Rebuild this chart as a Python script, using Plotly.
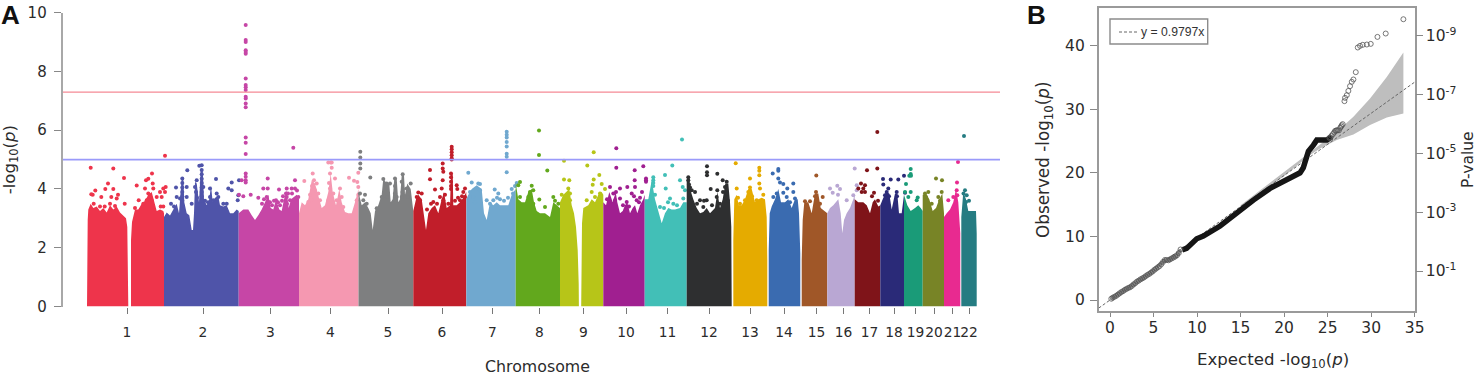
import plotly.graph_objects as go

# ---------- Manhattan plot: chromosome labels, tick positions, colours ----------
chromosomes = ["1","2","3","4","5","6","7","8","9","10","11","12","13","14","15","16","17","18","19","20","21","22"]
chrom_ticks = [127,203,270.5,330.5,388,442,492.5,539.5,583.5,626,667.5,709,750,784,816.5,843.5,869.5,894,915.5,934,952.5,969]
chrom_colors = ["#EE344B","#4F54A9","#C646A6","#F598B1","#7E7F80","#C11E2A","#70A8CF","#62A81D","#B7C518","#A01F90",
                "#42BFB7","#2E2F30","#E5AB00","#3A6BB0","#A05728","#B9A7D3","#7F1419","#2A2A78","#1A9B78","#788426","#E82A90","#257C82"]

# upper edge of the dense mass of SNPs, (cumulative position, -log10 p)
chr1_top = [(87,0),(87,2.26),(87.7,2.94),(88.3,3.3),(90.7,3.5),(93.3,3.35),(96.7,3.4),(100,3.25),(103.3,3.35),(106.7,3.2),(110,3.45),(113.3,3.3),(116.7,3.4),(120,3.2),(123.3,3.1),(126,3.0),(127.3,2.71),(128,1.35),(128.3,0),
            (131,0),(131,2.26),(132,2.88),(133.3,3.1),(135,3.3),(138.3,3.3),(141.7,3.5),(145,3.6),(148.3,3.8),(151.7,3.9),(154,3.55),(156.7,3.25),(160,3.3),(163.3,3.25),(164,3.17),(164,0)]
chr2_top = [(164,0),(164,3.05),(166.7,3.2),(170,3.1),(173.3,3.3),(176.7,3.5),(179,3.17),(181.7,4.36),(183.3,4.36),(184.3,3.55),(186.7,3.17),(189.3,3.11),(191.7,2.6),(193,2.6),(194,3.17),(195,4.25),(196.7,4.19),(199,3.55),(200.7,4.64),(202.7,4.64),(204,3.65),(206.7,3.45),(209.3,3.65),(211,4.13),(212.7,3.55),(215,3.7),(218.3,3.75),(220,3.45),(223.3,3.4),(226.7,3.45),(230,3.17),(233.3,3.17),(236.7,3.3),(238.7,3.25),(238.7,0)]
chr3_top = [(238.7,0),(238.7,3.17),(243.3,3.3),(248.3,3.3),(251.7,3.11),(255,2.94),(258.3,3.11),(261.7,3.3),(265,3.55),(268.3,3.8),(270.7,3.35),(273.3,3.3),(276,3.65),(279.3,3.3),(281.7,3.25),(284,3.65),(286.7,3.95),(288.7,3.35),(291,3.65),(293.3,3.7),(296.7,3.8),(299,3.65),(299,0)]
chr4_top = [(299,0),(299,3.17),(301.7,3.55),(305,3.45),(308.3,3.65),(311.7,4.3),(315,4.19),(318.3,3.8),(321.7,3.35),(325,3.45),(328.3,3.9),(330.7,4.53),(332.7,3.9),(336,3.45),(339.3,4.0),(341.7,3.55),(345,3.22),(348.3,3.17),(351.7,3.17),(355,3.55),(358.5,4.0),(358.5,0)]
chr5_top = [(358.5,0),(358.5,3.9),(361.7,3.45),(365,3.55),(368.3,3.35),(370.7,3.17),(372.7,2.6),(375,3.25),(378.3,3.45),(381.7,3.8),(383.3,4.36),(386.7,4.19),(389.3,4.19),(390.7,3.55),(392.7,3.65),(394.3,4.36),(396.7,4.36),(398.3,3.55),(400,3.65),(401.7,4.47),(404,4.47),(405,3.8),(407.3,4.19),(410.7,4.0),(413.3,3.25),(413.3,0)]
chr6_top = [(413.3,0),(413.3,3.25),(416,3.65),(418.3,3.8),(421.7,3.65),(424,3.05),(426,2.6),(428.3,3.17),(431.7,3.35),(435,3.45),(438.3,3.17),(441.7,3.65),(444,3.9),(446.7,3.35),(450,3.45),(451,4.5),(452.7,4.5),(453.3,3.45),(456.7,3.45),(460,3.55),(463.3,3.7),(466.3,3.9),(466.3,0)]
chr7_top = [(466.3,0),(466.3,3.65),(468.3,3.8),(471.7,4.0),(476.7,4.13),(481.7,4.0),(484,3.17),(486.7,2.94),(490,3.55),(493.3,3.45),(496.7,3.55),(500,3.45),(503.3,3.45),(508.3,3.45),(511.7,3.8),(515.7,4.0),(515.7,0)]
chr8_top = [(515.7,0),(515.7,4.2),(518.3,3.65),(521.7,3.55),(525,3.55),(528.3,3.9),(531.7,4.0),(534,3.55),(536.7,3.25),(540,3.17),(545,3.17),(550,3.05),(553.3,3.55),(556.7,3.45),(560,3.35),(560,0)]
chr9_top = [(560,0),(560,3.55),(563.3,3.8),(566.7,3.9),(569.3,4.0),(571.7,3.45),(574,3.17),(576,2.71),(577.7,1.92),(578.7,0.78),(578.9,0),
            (581.2,0),(581.3,1.35),(582,2.83),(583.3,3.35),(588.3,3.45),(591.7,3.65),(595,3.55),(598.3,3.8),(601.7,3.9),(603.3,3.8),(603.3,0)]
chr10_top = [(603.3,0),(603.3,3.55),(606,3.45),(609.3,3.9),(612.7,3.55),(615.7,3.9),(617.3,3.55),(620,3.17),(622.7,3.25),(625,3.45),(627.3,3.55),(630,3.17),(632.7,3.35),(635,3.45),(637.3,3.17),(640,3.45),(643.3,3.65),(644.7,3.8),(644.7,0)]
chr11_top = [(644.7,0),(644.7,3.65),(648.3,3.65),(651.7,4.3),(655,3.65),(658.3,3.25),(661.7,2.83),(665,3.17),(668.3,3.35),(671.7,3.3),(675,3.3),(680,3.35),(683.3,3.55),(686.7,3.55),(686.7,0)]
chr12_top = [(686.7,0),(686.7,4.3),(689,4.42),(691,3.9),(693.3,3.65),(696.7,3.35),(700,3.17),(703.3,3.22),(706.7,3.35),(710,3.17),(715,3.35),(717.3,3.9),(720,3.35),(722.7,3.65),(725.3,4.19),(728.3,4.19),(730,3.55),(731.3,2.71),(731.7,0)]
chr13_top = [(733.3,0),(733.3,2.26),(734.3,3.65),(736.7,3.8),(738.7,3.45),(741.7,3.45),(745,3.65),(748.3,4.0),(751.7,4.0),(755,3.55),(758.3,3.65),(761.7,3.7),(765,3.65),(766.7,3.05),(767.3,1.58),(767.3,0)]
chr14_top = [(768.7,0),(768.7,1.92),(769.7,3.17),(771.7,3.4),(775,3.65),(778.3,4.0),(781,3.55),(785,3.55),(788.3,3.65),(791.7,3.35),(795,3.65),(797.7,3.65),(799,3.17),(800.3,1.8),(800.3,0)]
chr15_top = [(801.7,0),(801.7,1.58),(802.7,2.94),(804.3,3.55),(808.3,3.55),(811.7,3.17),(815,3.85),(818.3,3.85),(820.7,3.35),(825,3.25),(827.3,3.17),(827.3,0)]
chr16_top = [(827.3,0),(827.3,3.17),(830,3.35),(833.3,3.45),(838.3,3.65),(840.7,3.17),(842.3,2.49),(844,2.94),(846.7,3.17),(850,3.35),(853.3,3.65),(854.7,3.8),(854.7,0)]
chr17_top = [(854.7,0),(854.7,3.65),(858.3,3.55),(863.3,3.55),(866.7,3.45),(870,3.17),(872.7,3.55),(875,3.65),(878.3,3.4),(880.3,3.45),(880.3,0)]
chr18_top = [(880.3,0),(880.3,3.45),(882.7,3.65),(886,3.9),(889.3,3.85),(891.7,3.3),(895,3.85),(897.3,3.85),(899,3.17),(901.7,3.17),(904,3.8),(904,0)]
chr19_top = [(904,0),(904,3.8),(907.3,3.45),(910.7,3.25),(915,3.35),(918.3,3.45),(920.7,3.35),(922.7,3.25),(922.7,0)]
chr20_top = [(922.7,0),(922.7,3.8),(926,3.85),(929.3,3.65),(932.7,3.25),(936,3.35),(939.3,3.65),(942.3,3.85),(944,3.17),(944,0)]
chr21_top = [(944,0),(944,3.05),(946.7,3.17),(950,3.3),(953.3,3.55),(956,4.0),(958.3,3.55),(960.3,2.49),(960.3,0)]
chr22_top = [(961.3,0),(961.3,3.05),(963.3,3.9),(966,3.65),(968.3,3.25),(971.7,3.25),(976,3.25),(976.7,2.49),(976.7,0)]

# individually visible SNPs above the mass
chr1_dots = [(90.7,4.72),(113.3,4.70),(124,4.37),(108,4.19),(165,5.13),(95.3,3.95),(105.3,4.0),(113.3,4.0),(91.3,3.82),(92.7,3.8),(101.3,3.73),(111.3,3.73),(118,3.8),(116.7,3.68),(124.7,3.5),(93.7,3.5),(100,3.4),(104.7,3.4),(110,3.5),(115,3.42),(136.7,4.12),(146,4.3),(152,4.53),(148.3,4.35),(152.7,4.19),(145,4.02),(153.3,4.02),(165.7,4.07),(163.3,4.02),(160,3.9),(156.7,3.73),(138.7,3.62),(135,3.35),(148.3,3.85),(150,3.73),(161.7,3.73),(165,3.9),(160.7,3.4),(163.3,3.4),(143.3,3.5),(146.7,3.62),(151.7,3.62)]
chr2_dots = [(182.3,4.36),(182.3,4.2),(182.3,4.05),(182.3,3.9),(182.3,3.75),(182.3,3.6),(182.3,3.45),(201.7,4.81),(201.7,4.65),(201.7,4.5),(201.7,4.35),(201.7,4.2),(201.7,4.05),(201.7,3.9),(201.7,3.75),(201.7,3.6),(187.3,4.64),(199.3,4.79),(216,4.34),(231.7,4.22),(239,4.3),(228.3,4.02),(231.7,3.96),(238.3,3.79),(237.7,3.62),(176,4.05),(186.7,4.07),(196.7,4.3),(195,4.07),(210,4.02),(216.7,3.85),(218.3,3.73),(210,3.73),(223.3,3.5),(226.7,3.5),(171,3.5),(176.7,3.73),(180,3.68),(186.7,3.73),(191.7,3.5),(203.3,4.07),(213.3,3.62),(196,3.9),(197,3.7),(205,3.6),(174,3.4),(208,3.55)]
chr3_dots = [(245.7,9.58),(245.7,9.07),(245.7,9.0),(245.7,8.72),(245.7,8.66),(245.7,8.6),(245.7,7.76),(245.7,7.54),(245.7,7.46),(245.7,7.37),(245.7,7.14),(245.7,7.08),(245.7,6.91),(245.7,6.78),(245.7,5.75),(245.7,5.57),(245.7,5.19),(245.7,4.53),(245.7,4.42),(245.7,4.3),(245.7,4.22),(293.3,5.40),(241.7,4.3),(243.3,3.75),(250.7,3.8),(239,3.8),(267.7,4.36),(295,4.3),(263.3,4.02),(267.7,4.02),(279,3.98),(286.7,4.02),(291.7,4.02),(295,4.02),(258.3,3.7),(266.7,3.73),(276,3.62),(268.3,3.56),(286.7,3.73),(298.3,3.73),(290,3.62),(295,3.62),(286,3.85),(287,3.5),(272,3.45),(280,3.45),(262,3.5),(264,3.65),(270,3.55),(274,3.6),(278,3.55),(283,3.75),(288,3.85),(292,3.85),(297,3.95),(282,3.6)]
chr4_dots = [(328.3,4.9),(330.7,4.9),(331.7,4.9),(331.7,4.72),(330,4.53),(312.7,4.53),(304.3,4.27),(314,4.3),(316.7,4.19),(335,4.36),(349,4.38),(354,4.28),(358.3,4.55),(357.3,4.24),(358.3,4.07),(315,3.96),(318.3,3.85),(330,4.02),(340,4.02),(333.3,3.85),(341.7,3.73),(308.3,3.56),(311.7,3.62),(320,3.62),(328.3,3.62),(336.7,3.62),(343.3,3.39),(358.3,3.8),(356.7,3.62),(312,4.1),(310,3.8),(329,4.2)]
chr5_dots = [(360.3,5.27),(360.3,5.07),(360.3,4.87),(360.3,4.70),(360,3.85),(365,3.8),(370.3,4.39),(383.3,4.34),(386.7,4.19),(390,4.19),(395,4.36),(395,4.1),(395,3.85),(402.7,4.5),(410.7,4.19),(406.7,4.02),(401.7,4.25),(396.7,3.73),(381.7,3.73),(386.7,3.73),(376.7,3.34),(366.7,3.5),(363.3,3.62),(408.3,3.73),(401.7,3.73),(403,4.0),(395,3.65),(402.5,3.9)]
chr6_dots = [(430,4.65),(430,4.33),(442.7,4.87),(442.7,4.70),(443.3,4.59),(442.7,4.3),(441.7,4.02),(451.7,5.44),(451.7,5.35),(451.7,5.25),(451.7,5.15),(451.7,5.05),(451.7,5.0),(451,4.53),(451,4.4),(451,4.25),(451,4.1),(451,4.0),(456.7,4.13),(457.3,4.0),(435,3.98),(418.3,3.88),(421.7,3.85),(416.7,3.73),(420,3.62),(440,3.73),(443.3,3.62),(433.3,3.56),(465,4.02),(463.3,3.9),(460,3.62),(465,3.73),(448.3,3.5),(445,3.8),(437,3.5),(455,3.6),(458,3.7),(462,3.75),(427,3.3),(431,3.5)]
chr7_dots = [(506.7,5.95),(506.7,5.85),(506.7,5.75),(506.7,5.6),(506.7,5.45),(506.7,5.2),(506.7,5.1),(506.7,4.57),(468.3,4.55),(471.7,4.22),(478.3,4.19),(480,4.17),(470,3.9),(480,3.96),(473.3,3.73),(486.7,3.62),(494.7,3.98),(498.3,3.85),(493.3,3.62),(511.7,4.0),(515,4.1),(516.7,4.2),(513,3.85),(508,3.7),(475,3.55),(490,3.5),(500,3.65),(504,3.6),(497,3.7)]
chr8_dots = [(539,5.99),(539,5.16),(547.3,4.63),(520,4.24),(518.3,4.13),(531.7,4.11),(533.3,3.96),(520,3.73),(528.3,3.73),(539.3,3.64),(545,3.39),(553.3,3.73),(558.3,3.5),(533.3,3.5),(530,3.9),(555,3.6)]
chr9_dots = [(564,4.96),(564,4.32),(569.3,4.3),(568.3,4.02),(561.7,3.8),(570,3.62),(587.3,4.8),(593.7,5.25),(599.3,4.48),(593.7,4.32),(592.7,4.14),(601.7,4.17),(605,4.0),(591.7,3.9),(586.7,3.62),(595,3.73),(600,3.85),(570,3.85)]
chr10_dots = [(616.3,5.39),(616.3,4.72),(634.7,4.64),(643.3,4.77),(634.7,4.3),(646,4.36),(646,4.25),(646,4.3),(610,4.07),(620,4.02),(627.3,4.07),(635,4.07),(613.3,3.85),(631.7,3.85),(615,3.62),(620,3.68),(626.7,3.56),(636.7,3.62),(616,3.9),(640,3.7),(607,3.65),(623,3.45),(629,3.4),(634,3.75),(639,3.55),(642,3.9)]
chr11_dots = [(682,5.68),(672.3,4.8),(665,4.48),(653.3,4.4),(653.3,4.3),(653.3,4.2),(653.3,4.1),(665.7,4.02),(680,4.3),(682.7,4.07),(685,3.96),(670,3.68),(660,3.39),(673.3,3.5),(683.3,3.68),(655,3.8),(650,3.6),(668,3.55),(677,3.45),(664,3.35)]
chr12_dots = [(707,4.77),(707,4.57),(707,4.47),(717.3,4.52),(722.7,4.3),(726.7,4.25),(710.7,4.0),(688.3,4.4),(688.3,4.3),(689,4.15),(690,4.05),(691.7,3.96),(695,3.9),(717.3,3.96),(706.7,3.62),(700,3.62),(716.7,3.73),(725,4.07),(726.7,3.85),(703.3,3.39),(728,3.6),(720,3.5),(697,3.5),(712,3.45),(723,3.9),(704,3.6)]
chr13_dots = [(735.7,4.88),(759.3,4.72),(759.3,4.62),(759.3,4.47),(750,4.36),(759.3,4.19),(760,4.02),(736.7,4.02),(750,4.05),(748.3,3.9),(763.3,3.8),(740,3.5),(745,3.62),(756.7,3.62),(752,3.75),(738,3.7)]
chr14_dots = [(778.3,4.68),(778.3,4.62),(772.7,4.53),(778.3,4.36),(780,4.22),(783.3,4.17),(793.3,4.19),(787.3,4.02),(793.3,3.9),(783.3,3.87),(776.7,3.85),(773.3,3.73),(786.7,3.73),(795,3.68),(778,3.55),(790,3.55)]
chr15_dots = [(816.3,4.46),(816,3.9),(822.7,3.73),(805,3.58),(810,3.58),(818.3,3.5),(806.7,3.39),(815,3.75),(820,3.5)]
chr16_dots = [(854.7,4.7),(837.3,4.11),(830,4.02),(840,4.0),(832.7,3.87),(846.7,3.62),(853.3,3.79),(856.7,4.13),(856.7,3.96),(838,3.8)]
chr17_dots = [(877.3,5.94),(877.3,4.7),(867,4.64),(861,4.19),(865,4.13),(863.3,4.02),(858.3,4.02),(861.7,3.9),(865,3.9),(874,3.87),(878,3.6),(872,3.75)]
chr18_dots = [(883,4.34),(890.7,4.32),(898.3,4.32),(904,4.45),(883.3,4.15),(888.3,4.02),(886.7,3.9),(885,3.79),(896.7,3.9),(905,3.87),(889,3.75),(897,3.75)]
chr19_dots = [(910.7,4.68),(910.7,4.51),(909.3,4.45),(906,4.17),(910.7,3.9),(917.7,3.71),(908.3,3.73),(916.7,3.62),(911,4.45),(905,3.9)]
chr20_dots = [(936,4.36),(942,4.3),(941.7,3.9),(928.3,3.9),(926,3.73),(938.3,3.73),(931.7,3.5),(925,3.85),(940,3.6)]
chr21_dots = [(958,4.92),(957,4.22),(948.3,3.62),(953.3,3.73),(956.7,3.96),(957.3,3.79),(956,3.5)]
chr22_dots = [(964,5.8),(965,3.96),(966.7,3.79),(966,3.56),(963.5,3.85),(969,3.6)]

all_tops = [chr1_top,chr2_top,chr3_top,chr4_top,chr5_top,chr6_top,chr7_top,chr8_top,chr9_top,chr10_top,chr11_top,
            chr12_top,chr13_top,chr14_top,chr15_top,chr16_top,chr17_top,chr18_top,chr19_top,chr20_top,chr21_top,chr22_top]
all_dots = [chr1_dots,chr2_dots,chr3_dots,chr4_dots,chr5_dots,chr6_dots,chr7_dots,chr8_dots,chr9_dots,chr10_dots,chr11_dots,
            chr12_dots,chr13_dots,chr14_dots,chr15_dots,chr16_dots,chr17_dots,chr18_dots,chr19_dots,chr20_dots,chr21_dots,chr22_dots]

genome_wide_line = 7.3
suggestive_line = 5.0

# ---------- QQ plot ----------
qq_slope = 0.9797
qq_low_x = [0.15,.3,.5,.7,.9,1.1,1.3,1.5,1.7,1.9,2.1,2.3,2.5,2.7,2.9,3.1,3.3,3.5,3.7,3.9,4.1,4.3,4.5,4.7,4.9,5.1,5.3,5.5,5.7,5.9,6.1,6.3,6.5,6.7,6.9,7.1,7.3,7.5,7.7,7.9,8.1]
qq_low_y = [.2,.35,.5,.65,.85,1.05,1.25,1.4,1.6,1.75,1.9,2.0,2.2,2.45,2.65,2.9,3.05,3.25,3.4,3.55,3.75,3.95,4.1,4.3,4.5,4.75,4.95,5.15,5.35,5.65,6.0,6.3,6.3,6.25,6.4,6.55,6.7,6.85,7.05,7.4,7.95]
qq_dense_x = [8.3,8.8,9.96,10.72,12.64,14.55,16.47,18.38,20.3,21.83,22.2,22.5,22.79,23.36,23.75,24.9,25.47]
qq_dense_y = [7.9,8.12,9.64,10.06,11.64,13.73,15.72,17.56,18.87,20.02,20.8,22.0,23.4,24.37,25.16,25.16,25.68]
qq_high_x = [25.2,25.3,25.45,25.6,25.75,25.85,25.95,26.05,26.15,26.3,26.45,26.55,26.62,26.73,26.93,27.0,27.2,27.38,27.57,27.77,27.96,28.23,28.46,28.72,29.03,29.5,29.95,30.72,31.67,33.7]
qq_high_y = [25.5,25.6,25.85,26.1,26.35,26.6,26.65,26.7,26.7,26.7,27.1,27.3,27.5,27.67,31.29,31.81,32.23,32.9,33.65,34.33,34.7,35.85,39.73,39.99,40.15,40.2,40.3,41.4,41.93,44.18]
ci_upper_x = [15,20,22.98,26.05,27.96,29.87,31.79,32.75,33.7]
ci_upper_y = [14.9,20.1,23.3,26.47,28.83,31.7,35.1,36.95,38.94]
ci_lower_x = [33.7,31.79,29.87,27.96,26.05,24.13,22.98,20,15]
ci_lower_y = [29.35,28.72,27.52,26.05,25.16,23.85,22.8,19.5,14.6]
pvalue_ticks = [1,3,5,7,9]
pvalue_labels = ["10<sup>-1</sup>","10<sup>-3</sup>","10<sup>-5</sup>","10<sup>-7</sup>","10<sup>-9</sup>"]
fit_label = "y = 0.9797x"

W, H = 1477, 377
fig = go.Figure()

for name, color, top, dots in zip(chromosomes, chrom_colors, all_tops, all_dots):
    fig.add_trace(go.Scatter(x=[p[0] for p in top], y=[p[1] for p in top], mode="lines", fill="toself",
                             fillcolor=color, line=dict(width=0, color=color), hoverinfo="skip",
                             showlegend=False, name="chr"+name))
    fig.add_trace(go.Scatter(x=[p[0] for p in dots], y=[p[1] for p in dots], mode="markers",
                             marker=dict(size=4, color=color, line=dict(width=0)), showlegend=False, name="chr"+name))

x0, x1 = 62.7, 1000
fig.add_trace(go.Scatter(x=[x0,x1], y=[genome_wide_line]*2, mode="lines", line=dict(color="#F58A95", width=1.3), showlegend=False))
fig.add_trace(go.Scatter(x=[x0,x1], y=[suggestive_line]*2, mode="lines", line=dict(color="#9A9AFA", width=1.8), showlegend=False))

# QQ
fig.add_trace(go.Scatter(x=ci_upper_x+ci_lower_x, y=ci_upper_y+ci_lower_y, mode="lines", fill="toself",
                         fillcolor="#BEBEBE", line=dict(width=0), xaxis="x2", yaxis="y2", showlegend=False))
fig.add_trace(go.Scatter(x=[-1.3,35], y=[-1.3*qq_slope,35*qq_slope], mode="lines",
                         line=dict(color="#666666", width=1, dash="3px,2px"), xaxis="x2", yaxis="y2",
                         name=fit_label, showlegend=False))
fig.add_trace(go.Scatter(x=qq_low_x, y=qq_low_y, mode="lines", line=dict(color="#8A8A8A", width=3.5),
                         xaxis="x2", yaxis="y2", showlegend=False))
fig.add_trace(go.Scatter(x=qq_dense_x, y=qq_dense_y, mode="lines", line=dict(color="#151515", width=5.5),
                         xaxis="x2", yaxis="y2", showlegend=False))
fig.add_trace(go.Scatter(x=qq_low_x+qq_high_x, y=qq_low_y+qq_high_y, mode="markers",
                         marker=dict(size=5, color="rgba(0,0,0,0)", line=dict(color="#555555", width=0.8)),
                         xaxis="x2", yaxis="y2", showlegend=False))
# invisible trace carrying the P-value scale
fig.add_trace(go.Scatter(x=[0], y=[1], mode="markers", marker=dict(opacity=0), xaxis="x2", yaxis="y3",
                         showlegend=False, hoverinfo="skip"))

font = "DejaVu Sans, Verdana, sans-serif"
bold = "Liberation Sans, Arial, sans-serif"
def px(x, y):
    return x / W, 1 - y / H

fig.update_layout(
    width=W, height=H, margin=dict(l=0, r=0, t=0, b=0, autoexpand=False), paper_bgcolor="white", plot_bgcolor="white",
    font=dict(family=font, color="#2b2b2b", size=14), showlegend=False,
    xaxis=dict(domain=[x0/W, x1/W], range=[x0, x1], showgrid=False, zeroline=False, showline=False, automargin=False,
               tickmode="array", tickvals=chrom_ticks, ticktext=chromosomes, ticks="outside", ticklen=6.5,
               tickcolor="#777777", tickwidth=1, tickangle=0, ticklabelstandoff=6, tickfont=dict(size=13.8)),
    yaxis=dict(domain=[1-306.5/H, 1-12.7/H], range=[0, 10], showgrid=False, zeroline=False, showline=True, automargin=False,
               linecolor="#A8A8A8", linewidth=2, ticks="outside", ticklen=7, tickcolor="#888888", tickwidth=1,
               tickvals=[0,2,4,6,8,10], tickfont=dict(size=15), ticklabelstandoff=4,
               title=dict(text="-log<sub>10</sub>(<i>p</i>)", font=dict(size=16.5), standoff=11)),
    xaxis2=dict(domain=[1098.7/W, 1414.7/W], range=[-1.3, 35], anchor="y2", showgrid=False, zeroline=False, automargin=False,
                showline=True, mirror=True, linecolor="#9A9A9A", linewidth=1.5, ticks="outside", ticklen=4,
                tickcolor="#888888", tickvals=[0,5,10,15,20,25,30,35], tickfont=dict(size=15.5), ticklabelstandoff=-2),
    yaxis2=dict(domain=[1-311/H, 1-8.3/H], range=[-1.73, 45.9], anchor="x2", showgrid=False, zeroline=False, automargin=False,
                showline=True, mirror=True, linecolor="#9A9A9A", linewidth=1.5, ticks="outside", ticklen=7,
                tickcolor="#888888", tickvals=[0,10,20,30,40], tickfont=dict(size=15.5), ticklabelstandoff=2,
                title=dict(text="Observed -log<sub>10</sub>(<i>p</i>)", font=dict(size=16.8), standoff=11)),
    yaxis3=dict(domain=[1-311/H, 1-8.3/H], range=[-0.36, 9.94], anchor="x2", overlaying="y2", side="right", automargin=False,
                showgrid=False, zeroline=False, showline=False, ticks="outside", ticklen=7, tickcolor="#888888",
                tickvals=pvalue_ticks, ticktext=pvalue_labels, tickfont=dict(size=15.5), ticklabelstandoff=0,
                title=dict(text="P-value", font=dict(size=15.5), standoff=6)),
    annotations=[
        dict(text="<b>A</b>", x=px(10,15)[0], y=px(10,15)[1], xref="paper", yref="paper", xanchor="center", yanchor="middle",
             showarrow=False, font=dict(family=bold, size=26, color="#111111")),
        dict(text="<b>B</b>", x=px(1036,15)[0], y=px(1036,15)[1], xref="paper", yref="paper", xanchor="center", yanchor="middle",
             showarrow=False, font=dict(family=bold, size=26, color="#111111")),
        dict(text="Chromosome", x=px(537,366)[0], y=px(537,366)[1], xref="paper", yref="paper", xanchor="center", yanchor="middle",
             showarrow=False, font=dict(size=15.8)),
        dict(text="Expected -log<sub>10</sub>(<i>p</i>)", x=px(1272.5,360)[0], y=px(1272.5,360)[1], xref="paper", yref="paper",
             xanchor="center", yanchor="middle", showarrow=False, font=dict(size=16.6)),
        dict(text=fit_label, x=px(1172.5,32)[0], y=px(1172.5,32)[1], xref="paper", yref="paper", xanchor="center", yanchor="middle",
             showarrow=False, font=dict(family=bold, size=12.2, color="#333333")),
    ],
    shapes=[
        dict(type="rect", xref="paper", yref="paper", x0=1110/W, x1=1207.7/W, y0=1-44/H, y1=1-19/H,
             line=dict(color="#8C8C8C", width=1.4), fillcolor="rgba(255,255,255,0)"),
        dict(type="line", xref="paper", yref="paper", x0=1119/W, x1=1138/W, y0=1-32/H, y1=1-32/H,
             line=dict(color="#666666", width=1, dash="3px,2px")),
    ],
)

fig.write_html("out.html", config={"displayModeBar": False},
               post_script="document.body.style.margin='0';document.body.style.overflow='hidden';")
